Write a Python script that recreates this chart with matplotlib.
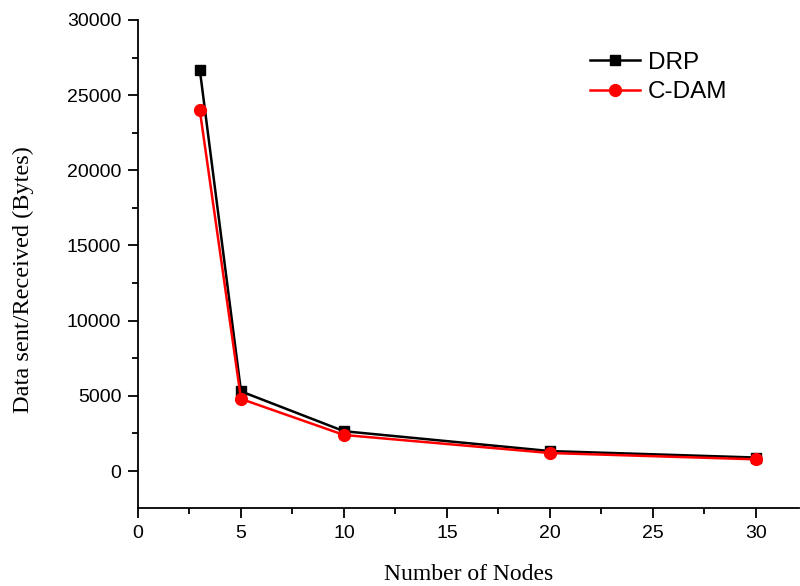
import matplotlib
matplotlib.use("Agg")
import matplotlib.pyplot as plt
from matplotlib.ticker import MultipleLocator

nodes = [3, 5, 10, 20, 30]
drp = [26700, 5300, 2650, 1330, 900]
cdam = [24000, 4800, 2400, 1200, 780]

fig = plt.figure(figsize=(8.0, 5.86), dpi=100)
ax = fig.add_axes([0.1725, 0.133, 0.8265, 0.833])

ax.plot(nodes, drp, color='black', lw=1.8, marker='s', ms=7.5, label='DRP')
ax.plot(nodes, cdam, color='red', lw=1.8, marker='o', ms=8.5, label='C-DAM')

ax.set_xlim(0, 32.1)
ax.set_ylim(-2460, 30000)
ax.xaxis.set_major_locator(MultipleLocator(5))
ax.xaxis.set_minor_locator(MultipleLocator(2.5))
ax.yaxis.set_major_locator(MultipleLocator(5000))
ax.yaxis.set_minor_locator(MultipleLocator(2500))
for s in ['top', 'right']:
    ax.spines[s].set_visible(False)
for s in ['left', 'bottom']:
    ax.spines[s].set_linewidth(1.3)
ax.tick_params(which='major', direction='out', length=7, width=1.3, labelsize=14, pad=5)
ax.tick_params(which='minor', direction='out', length=4, width=1.3)
for lab in ax.get_xticklabels() + ax.get_yticklabels():
    lab.set_family('Liberation Sans')

ax.set_xlabel('Number of Nodes', family='Liberation Serif', fontsize=17, labelpad=16)
ax.set_ylabel('Data sent/Received (Bytes)', family='Liberation Serif', fontsize=17.5)
ax.yaxis.set_label_coords(-0.157, 0.469)

leg = ax.legend(loc='upper left', bbox_to_anchor=(0.6836, 0.935), frameon=False,
                prop={'family': 'Liberation Sans', 'size': 17.5}, handlelength=2.05,
                handletextpad=0.33, labelspacing=0.32, borderpad=0, borderaxespad=0)

fig.savefig('out.png', dpi=100)
